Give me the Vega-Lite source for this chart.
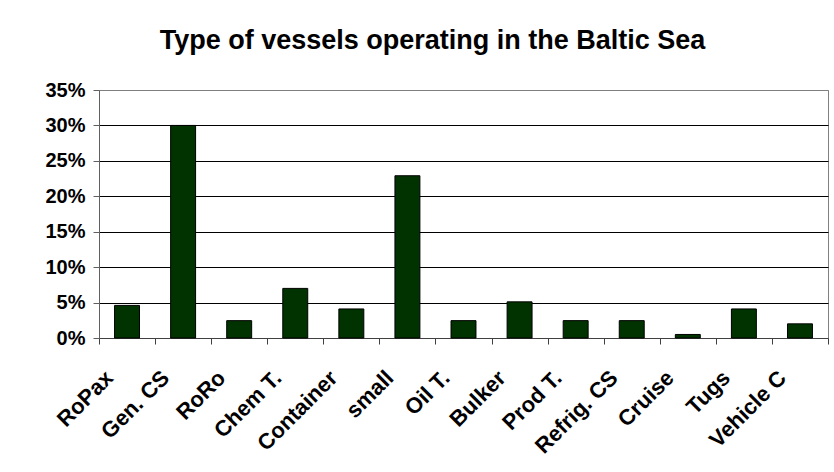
{
  "$schema": "https://vega.github.io/schema/vega-lite/v6.json",
  "width": 729,
  "height": 248,
  "autosize": {"type": "none"},
  "padding": {"left": 99, "top": 90, "right": 6, "bottom": 134},
  "background": "white",
  "title": {
    "text": "Type of vessels operating in the Baltic Sea",
    "font": "Liberation Sans",
    "fontSize": 27,
    "fontWeight": "bold",
    "color": "black",
    "anchor": "middle",
    "dx": -31,
    "offset": 25
  },
  "data": {
    "values": [
      {"type": "RoPax", "share": 0.046},
      {"type": "Gen. CS", "share": 0.30},
      {"type": "RoRo", "share": 0.0245},
      {"type": "Chem T.", "share": 0.07},
      {"type": "Container", "share": 0.041},
      {"type": "small", "share": 0.229},
      {"type": "Oil T.", "share": 0.0245},
      {"type": "Bulker", "share": 0.051},
      {"type": "Prod T.", "share": 0.0245},
      {"type": "Refrig. CS", "share": 0.0245},
      {"type": "Cruise", "share": 0.005},
      {"type": "Tugs", "share": 0.041},
      {"type": "Vehicle C", "share": 0.02}
    ]
  },
  "mark": {"type": "bar", "fill": "#003300", "stroke": "black", "strokeWidth": 1, "width": {"band": 0.445}},
  "encoding": {
    "x": {
      "field": "type",
      "type": "nominal",
      "sort": null,
      "scale": {"paddingInner": 0, "paddingOuter": 0},
      "axis": {
        "title": null,
        "labelAngle": -45,
        "labelAlign": "right",
        "labelBaseline": "middle",
        "labelPadding": 30,
        "labelOffset": -18,
        "labelFont": "Liberation Sans",
        "labelFontSize": 22,
        "labelFontWeight": "bold",
        "labelColor": "black",
        "tickBand": "extent",
        "tickSize": 6,
        "tickColor": "#404040",
        "domainColor": "#404040",
        "grid": false
      }
    },
    "y": {
      "field": "share",
      "type": "quantitative",
      "scale": {"domain": [0, 0.35], "nice": false},
      "axis": {
        "title": null,
        "values": [0, 0.05, 0.1, 0.15, 0.2, 0.25, 0.3, 0.35],
        "format": ".0%",
        "labelFont": "Liberation Sans",
        "labelFontSize": 20,
        "labelFontWeight": "bold",
        "labelColor": "black",
        "labelPadding": 8,
        "tickSize": 6,
        "tickColor": "#606060",
        "domainColor": "#606060",
        "grid": true,
        "gridColor": {"condition": {"test": "datum.value >= 0.35 || datum.value <= 0", "value": "#808080"}, "value": "black"},
        "gridWidth": 1
      }
    }
  },
  "config": {
    "view": {"stroke": "#808080", "strokeWidth": 1}
  }
}
